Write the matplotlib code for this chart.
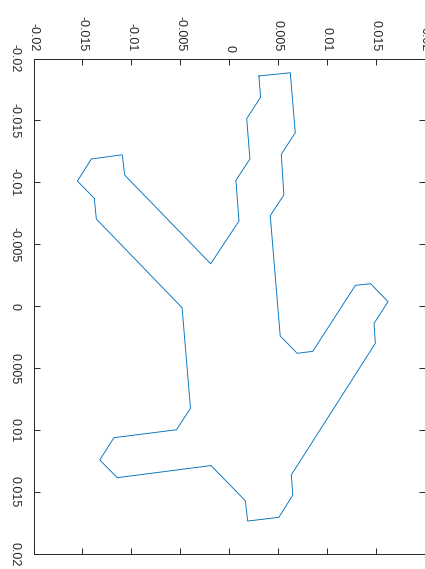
import matplotlib
matplotlib.use("Agg")
import matplotlib.pyplot as plt

plt.rcParams['font.family'] = ['Liberation Sans', 'DejaVu Sans']
plt.rcParams['axes.unicode_minus'] = False

# Outline vertices (closed polygon)
# u: coordinate shown along the top axis, v: coordinate shown along the left axis
u = [0.00306, 0.00627, 0.00678, 0.00535, 0.00561, 0.00422, 0.00524, 0.00698,
     0.00857, 0.01293, 0.01449, 0.01627, 0.01484, 0.01497, 0.00637, 0.00653,
     0.00510, 0.00191, 0.00167, -0.00184, -0.01143, -0.01322, -0.01177, -0.00537,
     -0.00394, -0.00480, -0.01357, -0.01378, -0.01551, -0.01408, -0.01092, -0.01067,
     -0.00187, 0.00102, 0.00071, 0.00214, 0.00181, 0.00323, 0.00306]
v = [-0.01859, -0.01885, -0.01401, -0.01227, -0.00898, -0.00731, 0.00240, 0.00380,
     0.00364, -0.00169, -0.00182, -0.00037, 0.00138, 0.00299, 0.01362, 0.01524,
     0.01704, 0.01734, 0.01570, 0.01286, 0.01384, 0.01241, 0.01061, 0.00997,
     0.00824, 0.00012, -0.00704, -0.00871, -0.01011, -0.01189, -0.01223, -0.01059,
     -0.00343, -0.00688, -0.01017, -0.01189, -0.01514, -0.01687, -0.01859]

ticks = [-0.02, -0.015, -0.01, -0.005, 0, 0.005, 0.01, 0.015, 0.02]
tick_labels = ['-0.02', '-0.015', '-0.01', '-0.005', '0', '0.005', '0.01', '0.015', '0.02']

fig = plt.figure(figsize=(4.25, 5.69), dpi=100)
ax = fig.add_axes([33.5 / 425, 1 - 554 / 569, 391 / 425, 495.5 / 569])

ax.plot(u, v, color='#0072BD', linewidth=0.65)

ax.set_xlim(-0.02, 0.02)
ax.set_ylim(0.02, -0.02)
ax.set_xticks(ticks)
ax.set_xticklabels(tick_labels)
ax.set_yticks(ticks)
ax.set_yticklabels(tick_labels)

edge = '#262626'
for s in ax.spines.values():
    s.set_color(edge)
    s.set_linewidth(0.7)

ax.tick_params(axis='x', which='both', direction='in', top=True, bottom=True,
               labeltop=True, labelbottom=False, labelrotation=-90,
               length=4, width=0.7, color=edge, labelcolor=edge,
               labelsize=9, pad=5)
ax.tick_params(axis='y', which='both', direction='in', left=True, right=True,
               labelleft=True, labelright=False, labelrotation=-90,
               length=4, width=0.7, color=edge, labelcolor=edge,
               labelsize=9, pad=9)
for lbl in ax.get_yticklabels():
    lbl.set_va('center')

fig.savefig('out.png', dpi=100)
